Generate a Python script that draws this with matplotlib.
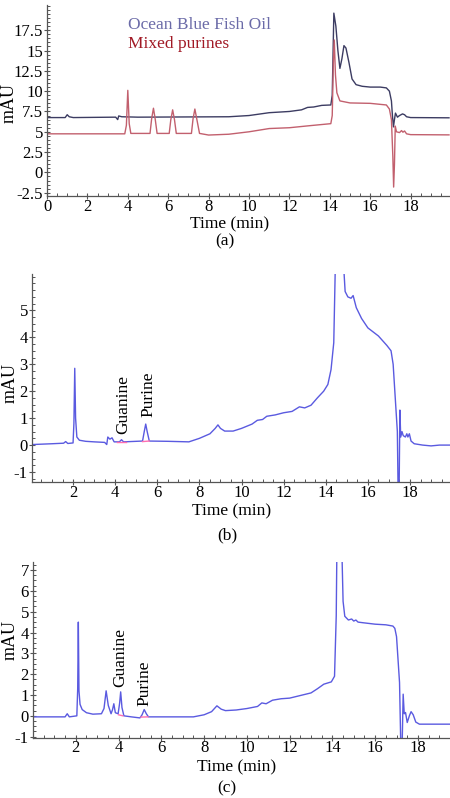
import matplotlib
matplotlib.use("Agg")
import matplotlib.pyplot as plt
from matplotlib.ticker import MultipleLocator, FuncFormatter

# ---------------- data ----------------
# Panel (a): Ocean Blue Fish Oil trace
a_blue_t = [0, 0.9, 1.0, 1.1, 1.3, 3.4, 3.5, 3.55, 3.7, 4.5, 9.0, 10.0, 11.0, 12.0, 12.6, 12.9,
            13.2, 13.6, 14.05, 14.12, 14.2, 14.3, 14.4, 14.5, 14.6, 14.7, 14.8, 14.95, 15.1, 15.3,
            15.6, 16.0, 16.5, 16.8, 16.95, 17.05, 17.1, 17.15, 17.2, 17.25, 17.35, 17.45, 17.6,
            17.7, 17.8, 18.0, 19.9]
a_blue_v = [6.75, 6.75, 7.1, 6.85, 6.75, 6.8, 6.5, 6.95, 6.85, 6.8, 6.85, 7.0, 7.35, 7.5, 7.7, 8.0,
            8.05, 8.25, 8.3, 9.5, 19.6, 18.0, 15.0, 12.8, 14.0, 15.6, 15.3, 13.5, 11.5, 10.8,
            10.6, 10.5, 10.5, 10.4, 10.0, 8.8, 7.0, 5.6, 6.5, 7.3, 6.8, 7.0, 7.2,
            7.1, 6.85, 6.75, 6.72]
# Panel (a): Mixed purines trace
a_red_t = [0, 3.85, 3.93, 4.0, 4.07, 4.15, 5.1, 5.18, 5.27, 5.36, 5.45, 6.05, 6.13, 6.22, 6.31, 6.4,
           7.15, 7.23, 7.32, 7.42, 7.55, 8.0, 9.0, 10.0, 11.0, 12.0, 13.0, 14.05, 14.12, 14.18,
           14.22, 14.28, 14.35, 14.5, 15.0, 16.0, 16.8, 16.95, 17.05, 17.12, 17.16, 17.2, 17.24,
           17.3, 17.45, 17.55, 17.62, 17.7, 17.8, 18.0, 19.9]
a_red_v = [4.75, 4.75, 5.8, 10.1, 6.0, 4.8, 4.8, 6.6, 7.9, 6.5, 4.8, 4.8, 6.5, 7.7, 6.5, 4.8,
           4.8, 6.6, 7.8, 6.5, 4.8, 4.6, 4.7, 5.0, 5.4, 5.5, 5.75, 6.0, 7.0, 14.0,
           16.3, 12.0, 9.8, 8.8, 8.55, 8.5, 8.3, 7.8, 6.5, 2.0, -1.8, 1.0, 5.7,
           5.0, 4.9, 5.15, 4.95, 5.1, 4.75, 4.65, 4.62]

# Panel (b) trace
b_t = [0.05, 1.0, 1.55, 1.65, 1.75, 2.0, 2.04, 2.08, 2.12, 2.18, 2.3, 2.6, 3.0, 3.5, 3.6, 3.65,
       3.75, 3.85, 3.95, 4.2, 4.3, 4.4, 5.3, 5.38, 5.45, 5.52, 5.62, 6.5, 7.5, 8.0, 8.5, 8.75,
       8.88, 9.0, 9.2, 9.6, 10.0, 10.5, 10.75, 11.0, 11.2, 11.6, 12.0, 12.4, 12.75, 13.0, 13.3,
       13.6, 13.9, 14.1, 14.25, 14.38, 14.45, 14.5, 14.8, 14.86, 14.92, 15.05, 15.2, 15.3,
       15.45, 15.7, 16.0, 16.5, 16.9, 17.1, 17.2, 17.32, 17.4, 17.44, 17.48, 17.52, 17.56,
       17.62, 17.68, 17.78, 17.85, 17.9, 17.97, 18.05, 18.2, 18.6, 19.0, 19.4, 19.9]
b_v = [0.02, 0.05, 0.07, 0.13, 0.06, 0.08, 0.8, 2.85, 1.0, 0.3, 0.18, 0.14, 0.12, 0.1, 0.02, 0.3,
       0.22, 0.27, 0.12, 0.12, 0.2, 0.12, 0.15, 0.5, 0.78, 0.5, 0.15, 0.14, 0.12, 0.25, 0.42, 0.62,
       0.75, 0.62, 0.52, 0.52, 0.62, 0.78, 0.92, 0.95, 1.07, 1.12, 1.2, 1.25, 1.42, 1.38, 1.48,
       1.75, 2.0, 2.25, 2.8, 3.8, 6.5, 12.0, 12.0, 6.5, 5.7, 5.5, 5.45, 5.55,
       5.1, 4.7, 4.35, 4.05, 3.7, 3.5, 3.0, 1.5, 0.5, -2.0, -2.0, 1.3, 0.3,
       0.5, 0.35, 0.3, 0.42, 0.3, 0.42, 0.15, 0.05, 0.0, -0.03, 0.0, 0.0]

# Panel (c) trace
c_t = [0, 1.5, 1.6, 1.7, 2.05, 2.09, 2.12, 2.15, 2.2, 2.3, 2.5, 2.8, 3.2, 3.32, 3.42, 3.52, 3.65,
       3.72, 3.78, 3.85, 3.98, 4.05, 4.1, 4.16, 4.25, 4.6, 5.0, 5.1, 5.2, 5.3, 5.4, 6.5, 7.5,
       8.0, 8.35, 8.6, 8.8, 9.0, 9.5, 10.0, 10.5, 10.7, 10.9, 11.2, 11.6, 12.0, 12.6, 13.0,
       13.3, 13.6, 13.95, 14.1, 14.18, 14.22, 14.42, 14.5, 14.58, 14.75, 14.9, 15.0, 15.1,
       15.2, 15.43, 16.0, 16.5, 16.83, 16.92, 17.0, 17.14, 17.2, 17.26, 17.31, 17.36, 17.42,
       17.5, 17.6, 17.68, 17.78, 17.9, 18.07, 19.5]
c_v = [-0.05, -0.05, 0.1, -0.05, 0.0, 1.3, 4.5, 1.2, 0.55, 0.3, 0.15, 0.08, 0.1, 0.35, 1.2, 0.5, 0.1,
       0.3, 0.58, 0.15, 0.1, 0.6, 1.15, 0.4, 0.0, -0.05, -0.1, 0.05, 0.3, 0.1, -0.05, -0.05, -0.05,
       0.05, 0.2, 0.48, 0.32, 0.25, 0.28, 0.35, 0.45, 0.62, 0.58, 0.75, 0.82, 0.85, 1.0, 1.1,
       1.3, 1.52, 1.63, 1.9, 4.8, 9.0, 9.0, 5.5, 4.78, 4.6, 4.65, 4.55, 4.6,
       4.5, 4.47, 4.4, 4.37, 4.31, 4.2, 3.8, 1.6, -1.5, -1.5, 1.04, 0.1, 0.16,
       -0.32, 0.0, 0.2, 0.05, -0.3, -0.4, -0.4]

# integration baselines (pink) under labelled peaks
b_guan_t, b_guan_v = [4.1, 4.5], [0.1, 0.1]
b_pur_t, b_pur_v = [5.3, 5.62], [0.13, 0.15]
c_guan_t, c_guan_v = [4.0, 4.2], [0.05, 0.0]
c_pur_t, c_pur_v = [5.05, 5.38], [-0.06, -0.05]

peak_names = ["Guanine", "Purine"]
b_label_pos = [(4.37, 0.42), (5.57, 1.05)]
c_label_pos = [(4.09, 1.40), (5.22, 0.45)]

legend_names = ["Ocean Blue Fish Oil", "Mixed purines"]
captions = ["(a)", "(b)", "(c)"]

a_xticks = [0, 2, 4, 6, 8, 10, 12, 14, 16, 18]
a_yticks = [-2.5, 0, 2.5, 5, 7.5, 10, 12.5, 15, 17.5]
b_xticks = [2, 4, 6, 8, 10, 12, 14, 16, 18]
b_yticks = [-1, 0, 1, 2, 3, 4, 5]
c_xticks = [2, 4, 6, 8, 10, 12, 14, 16, 18]
c_yticks = [-1, 0, 1, 2, 3, 4, 5, 6, 7]

# ---------------- style ----------------
plt.rcParams['font.family'] = ['Liberation Serif', 'DejaVu Serif']
TICK_FS = 12
LAB_FS = 12.5
BLUE_A = "#3c3c62"
RED_A = "#c2606e"
TRACE = "#5a5ae0"
PINK = "#ff6fb0"
AXC = "#555555"

fig = plt.figure(figsize=(4.5, 7.98), dpi=100)
W, H = 450.0, 798.0


def make_ax(left, right, bottom, top):
    return fig.add_axes([left / W, 1 - bottom / H, (right - left) / W, (bottom - top) / H])


def fmt(v, pos):
    return ("%g" % v)


def style(ax, xticks, yticks, xmin_, ymin_, xlim, ylim):
    for s in ['top', 'right']:
        ax.spines[s].set_visible(False)
    for s in ['left', 'bottom']:
        ax.spines[s].set_color(AXC)
        ax.spines[s].set_linewidth(0.9)
    ax.set_xticks(xticks)
    ax.set_yticks(yticks)
    ax.xaxis.set_minor_locator(MultipleLocator(xmin_))
    ax.yaxis.set_minor_locator(MultipleLocator(ymin_))
    ax.yaxis.set_major_formatter(FuncFormatter(fmt))
    ax.xaxis.set_major_formatter(FuncFormatter(fmt))
    ax.tick_params(which='major', direction='inout', length=4, width=0.8, color=AXC,
                   labelsize=TICK_FS, pad=1)
    ax.tick_params(axis='x', which='major', pad=0)
    ax.tick_params(which='minor', direction='in', length=2.5, width=0.7, color=AXC)
    ax.set_xlim(*xlim)
    ax.set_ylim(*ylim)


def labels(ax, xc, yc):
    ax.set_xlabel("Time (min)", fontsize=LAB_FS)
    ax.xaxis.label.set_va('center')
    ax.xaxis.set_label_coords(*xc)
    ax.set_ylabel("mAU", fontsize=13)
    ax.yaxis.label.set_va('center')
    ax.yaxis.set_label_coords(*yc)


# ---- panel (a)
axa = make_ax(47, 450, 196, 5)
axa.plot(a_blue_t, a_blue_v, color=BLUE_A, lw=1.0)
axa.plot(a_red_t, a_red_v, color=RED_A, lw=1.0)
style(axa, a_xticks, a_yticks, 0.5, 0.5, (0, 19.95), (-2.9, 20.6))
axa.text(4.0, 18.2, legend_names[0], color="#6b6ba8", fontsize=LAB_FS, va='center', ha='left')
axa.text(4.0, 15.85, legend_names[1], color="#a11a26", fontsize=LAB_FS, va='center', ha='left')
labels(axa, (0.454, -0.15), (-0.095, 0.487))

# ---- panel (b)
axb = make_ax(32, 450, 482, 274)
axb.plot(b_t, b_v, color=TRACE, lw=1.0)
axb.plot(b_guan_t, b_guan_v, color=PINK, lw=1.0)
axb.plot(b_pur_t, b_pur_v, color=PINK, lw=1.0)
style(axb, b_xticks, b_yticks, 0.5, 0.25, (0.05, 19.9), (-1.37, 6.35))
for name, (x, y) in zip(peak_names, b_label_pos):
    axb.text(x, y, name, rotation=90, ha='center', va='bottom', fontsize=LAB_FS)
labels(axb, (0.478, -0.14), (-0.053, 0.476))

# ---- panel (c)
axc = make_ax(33, 450, 737.7, 561.7)
axc.plot(c_t, c_v, color=TRACE, lw=1.0)
axc.plot(c_guan_t, c_guan_v, color=PINK, lw=1.0)
axc.plot(c_pur_t, c_pur_v, color=PINK, lw=1.0)
style(axc, c_xticks, c_yticks, 0.5, 0.25, (0, 19.5), (-1.05, 7.4))
for name, (x, y) in zip(peak_names, c_label_pos):
    axc.text(x, y, name, rotation=90, ha='center', va='bottom', fontsize=LAB_FS)
labels(axc, (0.489, -0.17), (-0.055, 0.555))

# captions
fig.text(225 / W, 1 - 241 / H, captions[0], ha='center', va='center', fontsize=LAB_FS)
fig.text(227 / W, 1 - 535 / H, captions[1], ha='center', va='center', fontsize=LAB_FS)
fig.text(227 / W, 1 - 788 / H, captions[2], ha='center', va='center', fontsize=LAB_FS)

fig.savefig("out.png", dpi=100, facecolor='white')
